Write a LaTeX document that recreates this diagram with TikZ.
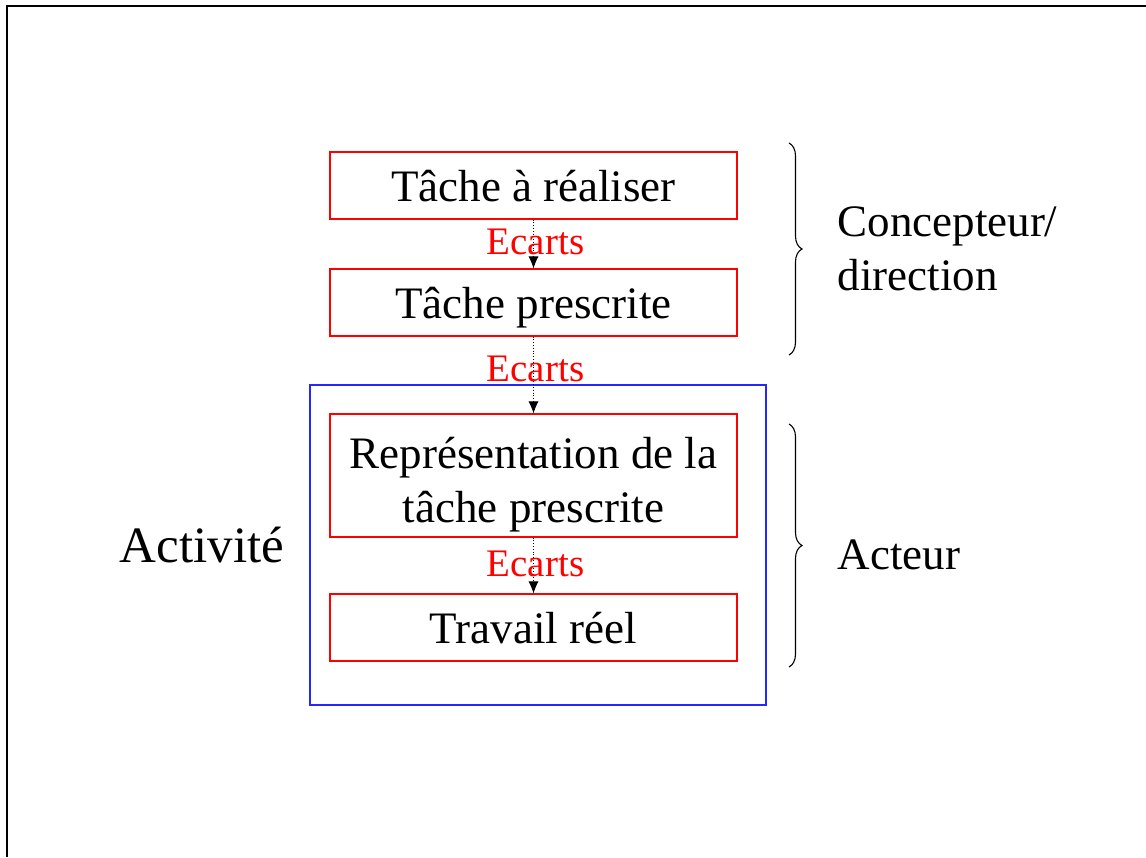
\documentclass[tikz,border=0pt]{standalone}
\usepackage{fontspec}
\setmainfont{Liberation Serif}
\usepackage{tikz}
\usetikzlibrary{arrows.meta}
\usetikzlibrary{decorations.pathreplacing}

\tikzset{
  tache/.style={draw=red, line width=1.1pt, minimum width=407pt, minimum height=67pt,
    inner sep=0pt, align=center, font=\fontsize{45}{54}\selectfont},
  ecart/.style={text=red, inner sep=0pt, font=\fontsize{39}{40}\selectfont},
  fleche/.style={-{Latex[length=12pt,width=10pt]}, dotted, line width=0.8pt},
  accolade/.style={decorate, decoration={brace, amplitude=13pt}, line width=1.1pt},
  grand/.style={font=\fontsize{45}{54}\selectfont}
}

\begin{document}
\begin{tikzpicture}[x=1pt, y=-1pt]
    \useasboundingbox (0,0) rectangle (1146,857);
    \draw[line width=2pt] (7,857) -- (7,6) -- (1146,6);

    \node[draw=blue!85!white, line width=1.2pt, minimum width=456pt, minimum height=320pt] (act) at (538, 545) {};
    \node[font=\fontsize{51}{60}\selectfont] (lact) at (202, 545) {Activité};

    \node[tache, text depth=-4pt] (t1) at (533.5, 185.5) {Tâche à réaliser};
    \node[tache, text depth=-6pt] (t2) at (533.5, 302.5) {Tâche prescrite};
    \node[tache, minimum height=123pt] (t3) at (533.5, 475.5) {};
    \node[tache, draw=none, minimum height=0pt] (t3txt) at (533.5, 484.5) {Représentation de la\\tâche prescrite};
    \node[tache, text depth=-4pt] (t4) at (533.5, 627.5) {Travail réel};

    \draw[fleche] (t1) -- node [ecart, xshift=2pt, yshift=2pt] {Ecarts} (t2);
    \draw[fleche] (t2) -- node [ecart, xshift=2pt, yshift=6pt] {Ecarts} (t3);
    \draw[fleche] (t3) -- node [ecart, xshift=2pt, yshift=2pt] {Ecarts} (t4);

    \coordinate (b1) at (789, 143);
    \coordinate (b2) at (789, 355);
    \coordinate (b3) at (789, 424);
    \coordinate (b4) at (789, 667);
    \draw[accolade] (b1) -- (b2);
    \draw[accolade] (b3) -- (b4);

    \node[grand, anchor=west, align=left] (conc) at (834, 249) {Concepteur/\\direction};
    \node[grand, anchor=west] (acteur) at (834, 555) {Acteur};
  \end{tikzpicture}
\end{document}
